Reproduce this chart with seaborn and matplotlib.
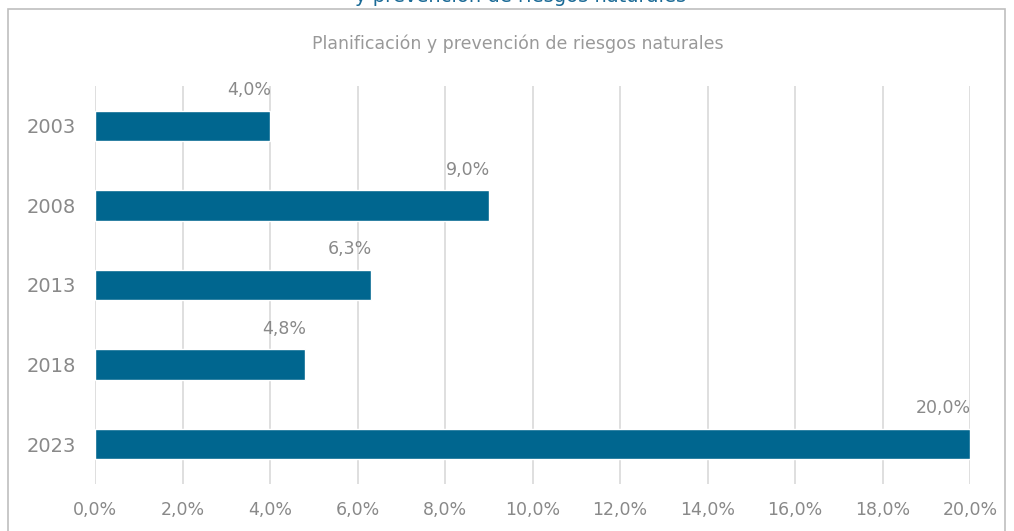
import matplotlib
matplotlib.use('Agg')
import matplotlib.pyplot as plt
from matplotlib.patches import Rectangle
import seaborn as sns
import pandas as pd

years = ['2003', '2008', '2013', '2018', '2023']
values = [4.0, 9.0, 6.3, 4.8, 20.0]
xticks = [0, 2, 4, 6, 8, 10, 12, 14, 16, 18, 20]

title = 'Planificación y prevención de riesgos naturales'
cut_title = 'y prevención de riesgos naturales'

bar_color = '#00668F'
text_gray = '#898989'

sns.set_theme(style='white')
plt.rcParams['font.family'] = ['DejaVu Sans']

df = pd.DataFrame({'year': years, 'value': values})

W, H = 1014, 531
fig = plt.figure(figsize=(W / 100, H / 100), dpi=100)
ax = fig.add_axes([95 / W, 1 - 484 / H, 875 / W, 398 / H])

sns.barplot(data=df, x='value', y='year', orient='h', color=bar_color,
            width=0.38, saturation=1, ax=ax, zorder=3)

ax.set_xlim(0, 20)
ax.set_ylim(4.5, -0.5)
ax.set_xticks(xticks)
ax.set_xticklabels([f'{v:.1f}'.replace('.', ',') + '%' for v in xticks])
ax.set_xlabel('')
ax.set_ylabel('')
ax.grid(axis='x', color='#D9D9D9', linewidth=1.2, zorder=0)
ax.grid(axis='y', visible=False)
for s in ax.spines.values():
    s.set_visible(False)
ax.tick_params(axis='x', colors=text_gray, labelsize=12.5, length=0, pad=12)
ax.tick_params(axis='y', colors=text_gray, labelsize=14, length=0, pad=14)

for i, v in enumerate(values):
    ax.text(v + 0.03, i - 0.45, f'{v:.1f}'.replace('.', ',') + '%',
            ha='right', va='center', fontsize=12.5, color=text_gray)

fig.text(518 / W, 1 - 44 / H, title, ha='center', va='center',
         fontsize=12.5, color='#999999')
fig.text(521 / W, 1 - 2 / H, cut_title, ha='center', va='baseline',
         fontsize=14, color='#1A6A96')

border = Rectangle((8 / W, -0.05), 997 / W, 1.05 - 9 / H,
                   transform=fig.transFigure, fill=False,
                   edgecolor='#BFBFBF', linewidth=1.2)
fig.patches.append(border)

fig.savefig('out.png', dpi=100)
